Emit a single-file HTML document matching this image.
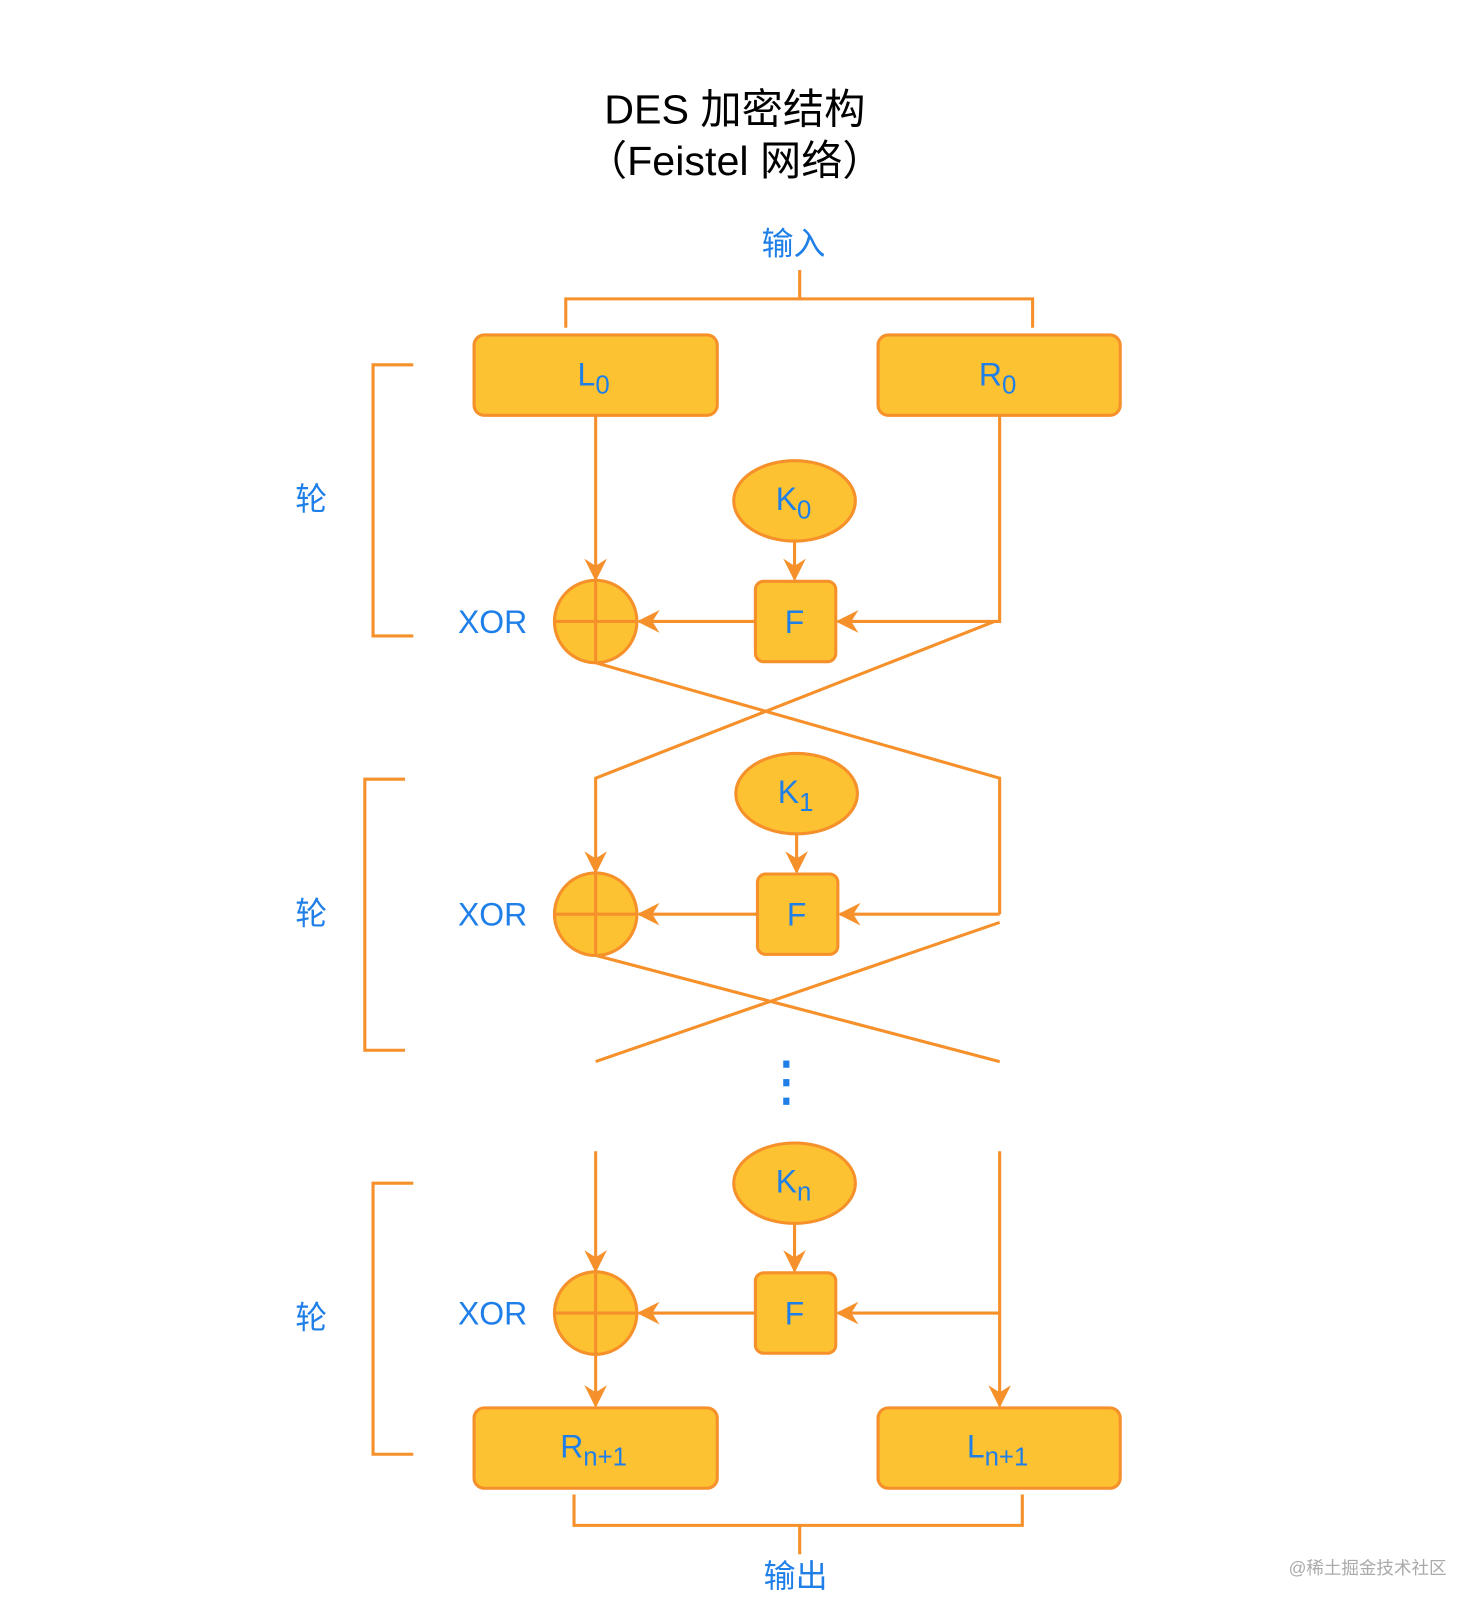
<!DOCTYPE html>
<html><head><meta charset="utf-8"><style>
html,body{margin:0;padding:0;background:#fff;}
svg{display:block;}
text{font-family:"Liberation Sans","Noto Sans CJK SC",sans-serif;}
</style></head><body>
<svg width="1484" height="1614" viewBox="0 0 1440 1566" preserveAspectRatio="none" xmlns="http://www.w3.org/2000/svg">
<defs>
<marker id="a" markerWidth="22" markerHeight="22" refX="20" refY="11" orient="auto" markerUnits="userSpaceOnUse" viewBox="0 0 22 22">
<path d="M0,0 L22,11 L0,22 L7,11 Z" fill="#F5902A"/>
</marker>
</defs>
<g fill="none" stroke="#F5902A" stroke-width="3">
<path d="M776,262 V290 M549,318 V290 H1002 V318"/>
<path d="M401,354 H362 V617 H401"/>
<path d="M393,756 H354 V1019 H393"/>
<path d="M401,1148 H362 V1411 H401"/>
<path d="M578,403 V562" marker-end="url(#a)"/>
<path d="M771,525 V562" marker-end="url(#a)"/>
<path d="M970,403 V603 H813" marker-end="url(#a)"/>
<path d="M733,603 H620" marker-end="url(#a)"/>
<path d="M578,643 L970,755 V887"/>
<path d="M965,603 L578,755 V846" marker-end="url(#a)"/>
<path d="M773,809 V846" marker-end="url(#a)"/>
<path d="M970,887 H815" marker-end="url(#a)"/>
<path d="M735,887 H620" marker-end="url(#a)"/>
<path d="M578,927 L970,1030 M970,895 L578,1030"/>
<path d="M578,1117 V1233" marker-end="url(#a)"/>
<path d="M970,1117 V1364" marker-end="url(#a)"/>
<path d="M771,1188 V1233" marker-end="url(#a)"/>
<path d="M970,1274 H813" marker-end="url(#a)"/>
<path d="M733,1274 H620" marker-end="url(#a)"/>
<path d="M578,1314 V1364" marker-end="url(#a)"/>
<path d="M557,1450 V1480 H992 V1450 M776,1480 V1508"/>
</g>
<g fill="#FDC232" stroke="#F5902A" stroke-width="3">
<rect x="460" y="325" width="236" height="78" rx="10"/>
<rect x="852" y="325" width="235" height="78" rx="10"/>
<rect x="460" y="1366" width="236" height="78" rx="10"/>
<rect x="852" y="1366" width="235" height="78" rx="10"/>
<ellipse cx="771" cy="486" rx="59" ry="39"/>
<ellipse cx="773" cy="770" rx="59" ry="39"/>
<ellipse cx="771" cy="1148" rx="59" ry="39"/>
<rect x="733" y="564" width="78" height="78" rx="8"/>
<rect x="735" y="848" width="78" height="78" rx="8"/>
<rect x="733" y="1235" width="78" height="78" rx="8"/>
<circle cx="578" cy="603" r="40"/>
<circle cx="578" cy="887" r="40"/>
<circle cx="578" cy="1274" r="40"/>
</g>
<g stroke="#F5902A" stroke-width="3">
<path d="M578,563 V643 M538,603 H618"/>
<path d="M578,847 V927 M538,887 H618"/>
<path d="M578,1234 V1314 M538,1274 H618"/>
</g>
<text x="713" y="120" font-size="40" text-anchor="middle" fill="#000">DES 加密结构</text>
<text x="713" y="170" font-size="40" text-anchor="middle" fill="#000">（Feistel 网络）</text>
<g fill="#1F7FE8" font-size="31" text-anchor="middle">
<text x="770" y="247">输入</text>
<text x="772" y="1540">输出</text>
<text x="302" y="495">轮</text>
<text x="302" y="897">轮</text>
<text x="302" y="1289">轮</text>
<text x="478" y="614">XOR</text>
<text x="478" y="898">XOR</text>
<text x="478" y="1285">XOR</text>
<text x="771" y="614">F</text>
<text x="773" y="898">F</text>
<text x="771" y="1285">F</text>
<text x="576" y="374">L<tspan font-size="25" dy="8">0</tspan></text>
<text x="968" y="374">R<tspan font-size="25" dy="8">0</tspan></text>
<text x="770" y="495">K<tspan font-size="25" dy="8">0</tspan></text>
<text x="772" y="779">K<tspan font-size="25" dy="8">1</tspan></text>
<text x="770" y="1157">K<tspan font-size="25" dy="8">n</tspan></text>
<text x="576" y="1414">R<tspan font-size="25" dy="8">n+1</tspan></text>
<text x="968" y="1414">L<tspan font-size="25" dy="8">n+1</tspan></text>
</g>
<g fill="#1F7FE8">
<rect x="760" y="1029" width="6" height="7"/>
<rect x="760" y="1047" width="6" height="7"/>
<rect x="760" y="1065" width="6" height="7"/>
</g>
<text x="1327" y="1527" font-size="17" text-anchor="middle" fill="#aaa">@稀土掘金技术社区</text>
</svg>
</body></html>
